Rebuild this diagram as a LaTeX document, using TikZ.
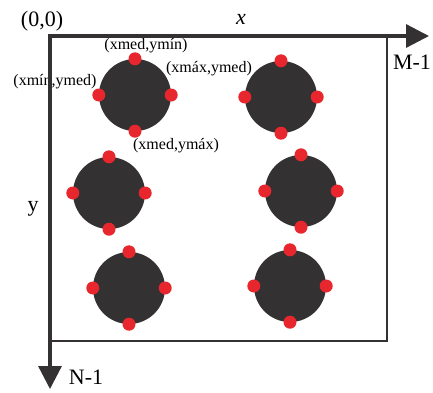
\documentclass[tikz,border=0pt]{standalone}
\usepackage{fontspec}
\setmainfont{Liberation Serif}
\usetikzlibrary{arrows.meta}
\definecolor{disk}{HTML}{333132}
\definecolor{dotred}{HTML}{E8262E}
\begin{document}
\begin{tikzpicture}[x=1pt,y=-1pt,
  disknode/.style={circle,fill=disk,draw=none,minimum size=72pt,inner sep=0pt},
  dotnode/.style={circle,fill=dotred,draw=none,minimum size=13pt,inner sep=0pt},
  small/.style={font=\fontsize{16}{18}\selectfont,inner sep=0pt},
  big/.style={font=\fontsize{22}{24}\selectfont,inner sep=0pt},
  axis/.style={line width=3.2pt,draw=disk,-{Triangle[length=23pt,width=23pt]}}]
\useasboundingbox (0,0) rectangle (433,392);
\fill[white] (0,0) rectangle (433,392);
% frame
\draw[line width=1.3pt,draw=disk] (50,36) rectangle (387,341);
% disks
\foreach \n/\x/\y in {a/135/95, b/281/97, c/109/193, d/301/191, e/129/288, f/290/286}{
  \node[disknode] (\n) at (\x,\y) {};
  \node[dotnode] (\n t) at (\n.north) {};
  \node[dotnode] (\n b) at (\n.south) {};
  \node[dotnode] (\n l) at (\n.west) {};
  \node[dotnode] (\n r) at (\n.east) {};
}
% labels
\node[small] (l1) at (146,46) {(xmed,ymín)};
\node[small] (l2) at (209,69) {(xmáx,ymed)};
\node[small] (l3) at (55,82) {(xmín,ymed)};
\node[small] (l4) at (176,146) {(xmed,ymáx)};
\node[big] (t00) at (42,21) {(0,0)};
\node[big] (tx) at (241,19) {\itshape x};
\node[big] (tm) at (412,62) {M-1};
\node[big] (ty) at (33,209) {y};
\node[big] (tn) at (86,377) {N-1};
% axes
\coordinate (O) at (50,36);
\coordinate (xe) at (429,36);
\coordinate (ye) at (50,389);
\draw[axis] ([xshift=-1.6pt]O) -- (xe);
\draw[axis] (O) -- (ye);
\end{tikzpicture}
\end{document}
